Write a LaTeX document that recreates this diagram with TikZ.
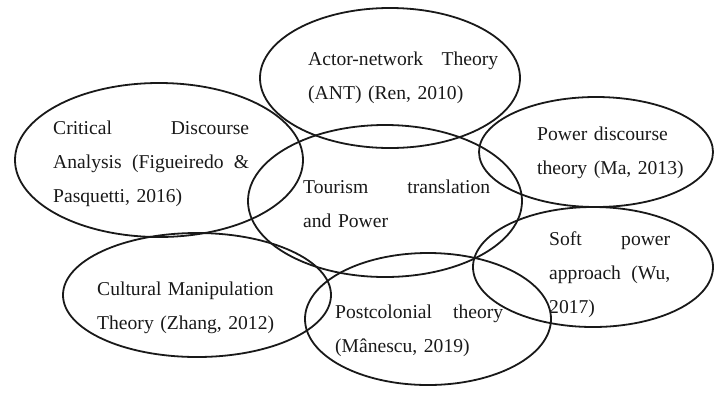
\documentclass[tikz,border=0pt]{standalone}
\usepackage{fontspec}
\setmainfont{Liberation Serif}
\usetikzlibrary{shapes.geometric}
\tikzset{
  oval/.style={ellipse, draw=black!90, line width=1.8pt, inner sep=0pt},
  label/.style={anchor=base west, inner sep=0pt, align=left, text=black!90,
    font=\fontsize{19.6}{34}\selectfont}
}
\begin{document}
\begin{tikzpicture}[x=1pt,y=-1pt]
\useasboundingbox (0,0) rectangle (715,392);
% ellipses
\node[oval, minimum width=288pt, minimum height=154pt] (cda) at (159,160) {};
\node[oval, minimum width=260pt, minimum height=140pt] (ant) at (390,78) {};
\node[oval, minimum width=274pt, minimum height=152pt] (tour) at (385,201) {};
\node[oval, minimum width=234pt, minimum height=110pt] (pow) at (596,152) {};
\node[oval, minimum width=240pt, minimum height=120pt] (soft) at (593,267) {};
\node[oval, minimum width=268pt, minimum height=124pt] (cm) at (197,295) {};
\node[oval, minimum width=246pt, minimum height=132pt] (post) at (428,319) {};
% texts
\node[label, text width=196pt] (tcda) at (53,134) {Critical\hfill Discourse\\Analysis\hfill (Figueiredo\hfill \&\\Pasquetti, 2016)};
\node[label, text width=190pt] (tant) at (308,65) {Actor-network\hfill Theory\\(ANT) (Ren, 2010)};
\node[label, text width=160pt] (tpow) at (537,140) {Power discourse\\theory (Ma, 2013)};
\node[label, text width=121pt] (tsoft) at (549,245) {Soft\hfill power\\approach\hfill (Wu,\\2017)};
\node[label, text width=187pt] (ttour) at (303,193) {Tourism\hfill translation\\and Power};
\node[label, text width=190pt] (tcm) at (97,295) {Cultural Manipulation\\Theory (Zhang, 2012)};
\node[label, text width=168pt] (tpost) at (335,318) {Postcolonial\hfill theory\\(Mânescu, 2019)};
\end{tikzpicture}
\end{document}
